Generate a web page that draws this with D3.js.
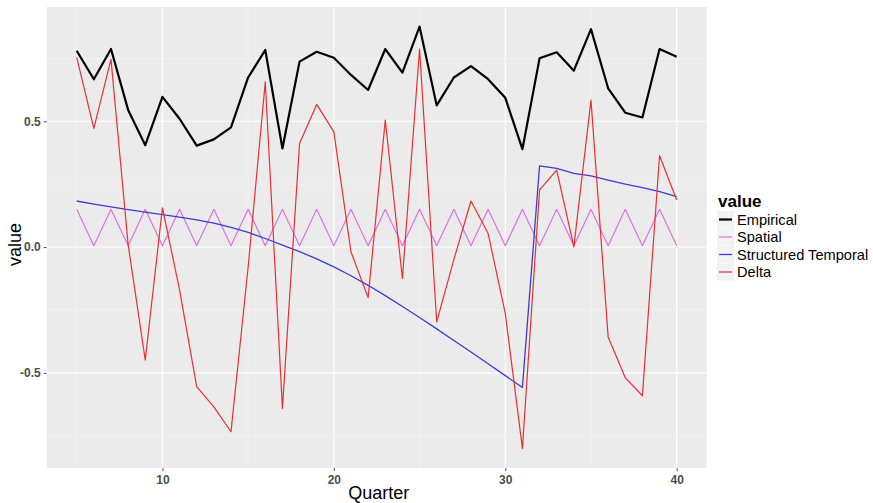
<!DOCTYPE html>
<html><head><meta charset="utf-8">
<script src="https://cdn.jsdelivr.net/npm/d3@7"></script>
<style>body{margin:0;background:#fff}svg{display:block}</style>
</head><body>
<svg id="c" width="873" height="503"></svg>
<script>
const quarters = [5,6,7,8,9,10,11,12,13,14,15,16,17,18,19,20,21,22,23,24,25,26,27,28,29,30,31,32,33,34,35,36,37,38,39,40];
const empirical = [0.780,0.667,0.787,0.545,0.405,0.597,0.510,0.403,0.428,0.476,0.674,0.783,0.392,0.737,0.776,0.752,0.684,0.624,0.787,0.693,0.876,0.563,0.674,0.719,0.667,0.593,0.389,0.750,0.774,0.701,0.866,0.631,0.534,0.515,0.787,0.756];
const spatial = [0.15,0.005,0.15,0.005,0.15,0.005,0.15,0.005,0.15,0.005,0.15,0.005,0.15,0.005,0.15,0.005,0.15,0.005,0.15,0.005,0.15,0.005,0.15,0.005,0.15,0.005,0.15,0.005,0.15,0.005,0.15,0.005,0.15,0.005,0.15,0.005];
const structuredTemporal = [0.183,0.171,0.160,0.149,0.139,0.129,0.119,0.108,0.095,0.078,0.058,0.034,0.008,-0.018,-0.047,-0.079,-0.114,-0.152,-0.193,-0.236,-0.280,-0.325,-0.371,-0.417,-0.464,-0.511,-0.558,0.323,0.313,0.293,0.283,0.266,0.250,0.236,0.220,0.200];
const delta = [0.754,0.472,0.746,0.010,-0.449,0.156,-0.170,-0.555,-0.635,-0.734,-0.080,0.657,-0.641,0.412,0.567,0.458,-0.019,-0.201,0.505,-0.125,0.787,-0.297,-0.050,0.183,0.054,-0.264,-0.800,0.227,0.306,0.001,0.584,-0.357,-0.519,-0.591,0.363,0.187];
const seriesNames = ["Empirical","Spatial","Structured Temporal","Delta"];
const seriesColors = ["#000000","#e070e0","#3b3bd6","#e8302f"];
const seriesWidths = [2.2,1.2,1.3,1.2];
const xTicks = [10,20,30,40];
const xMinor = [5,15,25,35];
const yTicks = [-0.5,0,0.5];
const yMinor = [-0.75,-0.25,0.25,0.75];

const series = [empirical, spatial, structuredTemporal, delta];
const svg = d3.select("#c");
const P = {l:46.7, r:706.7, t:7, b:468};
const x = d3.scaleLinear().domain([3.25,41.75]).range([P.l,P.r]);
const y = d3.scaleLinear().domain([-0.878,0.954]).range([P.b,P.t]);
const FONT = "Liberation Sans, Arial, sans-serif";

svg.append("rect").attr("x",P.l).attr("y",P.t).attr("width",P.r-P.l).attr("height",P.b-P.t).attr("fill","#ebebeb");
const g = svg.append("g");
g.selectAll(".ymin").data(yMinor).join("line").attr("x1",P.l).attr("x2",P.r).attr("y1",d=>y(d)).attr("y2",d=>y(d)).attr("stroke","#f7f7f7").attr("stroke-width",0.6);
g.selectAll(".xmin").data(xMinor).join("line").attr("y1",P.t).attr("y2",P.b).attr("x1",d=>x(d)).attr("x2",d=>x(d)).attr("stroke","#f7f7f7").attr("stroke-width",0.6);
g.selectAll(".ymaj").data(yTicks).join("line").attr("x1",P.l).attr("x2",P.r).attr("y1",d=>y(d)).attr("y2",d=>y(d)).attr("stroke","#fff").attr("stroke-width",1.1);
g.selectAll(".xmaj").data(xTicks).join("line").attr("y1",P.t).attr("y2",P.b).attr("x1",d=>x(d)).attr("x2",d=>x(d)).attr("stroke","#fff").attr("stroke-width",1.1);

const line = d3.line().x((d,i)=>x(quarters[i])).y(d=>y(d));
series.forEach((s,k)=>{
  svg.append("path").datum(s).attr("d",line).attr("fill","none")
    .attr("stroke",seriesColors[k]).attr("stroke-width",seriesWidths[k]).attr("stroke-linejoin","round");
});

const xAxis = d3.axisBottom(x).tickValues(xTicks).tickSize(3).tickPadding(4).tickFormat(d3.format("d"));
const gx = svg.append("g").attr("transform",`translate(0,${P.b})`).call(xAxis);
const yAxis = d3.axisLeft(y).tickValues(yTicks).tickSize(3).tickPadding(3).tickFormat(d3.format(".1f"));
const gy = svg.append("g").attr("transform",`translate(${P.l},0)`).call(yAxis);
[gx,gy].forEach(a=>{
  a.select(".domain").remove();
  a.selectAll(".tick line").attr("stroke","#555");
  a.selectAll(".tick text").attr("fill","#4d4d4d").style("font-family",FONT).style("font-size","12px").style("font-weight","bold");
});
gy.selectAll(".tick text").text(d=>d3.format(".1f")(d).replace("−","-"));

svg.append("text").attr("x",(P.l+P.r)/2+2).attr("y",499).attr("text-anchor","middle")
  .style("font-family",FONT).style("font-size","18px").attr("fill","#000").text("Quarter");
svg.append("text").attr("transform",`translate(21,${(P.t+P.b)/2+7}) rotate(-90)`).attr("text-anchor","middle")
  .style("font-family",FONT).style("font-size","18px").attr("fill","#000").text("value");

const lg = svg.append("g").attr("transform","translate(717,0)");
lg.append("text").attr("x",1).attr("y",207).style("font-family",FONT).style("font-size","17px").style("font-weight","bold").text("value");
const rowY = [219.5,237,254.5,272];
seriesNames.forEach((n,k)=>{
  const cy = rowY[k];
  lg.append("rect").attr("x",0).attr("y",cy-8.5).attr("width",17).attr("height",17).attr("fill","#f2f2f2");
  lg.append("line").attr("x1",2).attr("x2",15).attr("y1",cy).attr("y2",cy).attr("stroke",seriesColors[k]).attr("stroke-width",seriesWidths[k]);
  lg.append("text").attr("x",20).attr("y",cy+5).style("font-family",FONT).style("font-size","14.6px").attr("fill","#000").text(n);
});
</script>
</body></html>
